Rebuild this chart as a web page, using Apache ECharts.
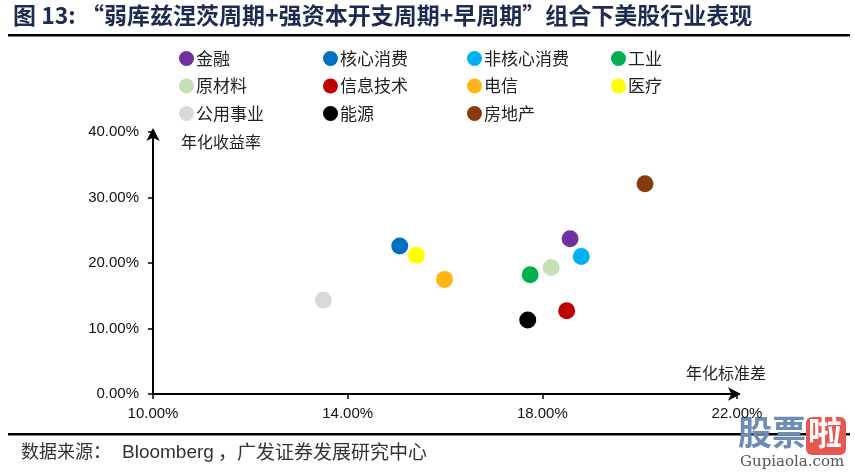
<!DOCTYPE html>
<html>
<head>
<meta charset="utf-8">
<script src="https://cdn.jsdelivr.net/npm/echarts@6/dist/echarts.min.js"></script>
<style>
html,body{margin:0;padding:0;background:#fff;}
#c{width:855px;height:472px;}
</style>
</head>
<body>
<div id="c"></div>
<script>
// ---- data ----
var sectors = ['金融','核心消费','非核心消费','工业','原材料','信息技术','电信','医疗','公用事业','能源','房地产'];
var stdDev  = [18.57, 15.07, 18.80, 17.75, 18.18, 18.50, 15.99, 15.41, 13.50, 17.70, 20.11];   // 年化标准差 (%)
var annRet  = [23.7, 22.6, 21.0, 18.2, 19.3, 12.7, 17.5, 21.2, 14.3, 11.3, 32.1];              // 年化收益率 (%)
var colors  = ['#7030A0','#0070C0','#00B0F0','#00B050','#C5E0B4','#C00000','#FFB515','#FFFF00','#D9D9D9','#000000','#843C0C'];
var xTicks  = [10, 14, 18, 22];
var yTicks  = [0, 10, 20, 30, 40];

var titleText = '图 13: “弱库兹涅茨周期+强资本开支周期+早周期”组合下美股行业表现';
var sourceLabel = '数据来源：';
var sourceOrg1 = 'Bloomberg';
var sourceOrg2 = '，广发证券发展研究中心';

var chart = echarts.init(document.getElementById('c'), null, {renderer:'canvas'});

var CJK = '"Noto Sans CJK SC", "Liberation Sans", sans-serif';
var ARIAL = '"Liberation Sans", Arial, sans-serif';

var legends = sectors.map(function(name, i){
  var col = i % 4, row = Math.floor(i / 4);
  return {
    data: [name],
    left: 179 + col * 144,
    top: 50 + row * 27.5,
    padding: 0,
    icon: 'circle',
    itemWidth: 15,
    itemHeight: 15,
    selectedMode: false,
    textStyle: {fontFamily: CJK, fontSize: 17, color: '#222', padding: [0,0,0,-3]}
  };
});

var series = sectors.map(function(name, i){
  return {
    name: name,
    type: 'scatter',
    symbol: 'circle',
    symbolSize: 17,
    itemStyle: {color: colors[i], opacity: 1},
    data: [[stdDev[i], annRet[i]]]
  };
});

function pct(v){ return v.toFixed(2) + '%'; }

chart.setOption({
  animation: false,
  backgroundColor: '#fff',
  color: colors,
  legend: legends,
  grid: {left: 153, top: 132, width: 584, height: 262, containLabel: false},
  xAxis: {
    type: 'value',
    min: xTicks[0], max: xTicks[xTicks.length-1], interval: 4,
    splitLine: {show: false},
    axisLine: {show: true, onZero: false, symbol: ['none','arrow'], symbolSize: [10,13], symbolOffset: [0, 4],
               lineStyle: {color: '#000', width: 2}},
    axisTick: {show: true, length: 5, lineStyle: {color: '#000', width: 1.5}},
    axisLabel: {formatter: pct, fontFamily: ARIAL, fontSize: 15, color: '#111', margin: 12}
  },
  yAxis: {
    type: 'value',
    min: yTicks[0], max: yTicks[yTicks.length-1], interval: 10,
    splitLine: {show: false},
    axisLine: {show: true, onZero: false, symbol: ['none','arrow'], symbolSize: [10,13], symbolOffset: [0, 4],
               lineStyle: {color: '#000', width: 2}},
    axisTick: {show: true, length: 5, lineStyle: {color: '#000', width: 1.5}},
    axisLabel: {formatter: pct, fontFamily: ARIAL, fontSize: 15, color: '#111', margin: 14}
  },
  series: series,
  graphic: [
    {type:'text', left: 13, top: 4, style:{text: titleText, font: 'bold 23px ' + CJK, fill: '#1C2B4F'}},
    {type:'rect', shape:{x:8, y:34, width:842, height:2.5}, style:{fill:'#000'}},
    {type:'text', left: 181, top: 134, style:{text:'年化收益率', font: '16px ' + CJK, fill:'#222'}},
    {type:'text', left: 686, top: 365, style:{text:'年化标准差', font: '16px ' + CJK, fill:'#222'}},
    {type:'rect', shape:{x:8, y:433, width:842, height:2.5}, style:{fill:'#000'}},
    {type:'text', left: 21, top: 442, style:{text: sourceLabel, font: '18px ' + CJK, fill:'#333'}},
    {type:'text', left: 122, top: 443, style:{text: sourceOrg1, font: '19px ' + ARIAL, fill:'#333'}},
    {type:'text', left: 218, top: 442, style:{text: sourceOrg2, font: '19px ' + CJK, fill:'#333'}},
    {type:'text', left: 738, top: 415, style:{text:'股票', font: 'bold 34px ' + CJK, fill:'#6C8DB5'}},
    {type:'rect', shape:{x:806, y:417, width:40, height:38, r:6}, style:{fill:'#E8574F'}},
    {type:'text', left: 808, top: 415, style:{text:'啦', font: 'bold 34px ' + CJK, fill:'#fff'}},
    {type:'text', left: 740, top: 455, style:{text:'Gupiaola.com', font: '15px "DejaVu Serif", serif', fill:'#555'}}
  ]
});
</script>
</body>
</html>
